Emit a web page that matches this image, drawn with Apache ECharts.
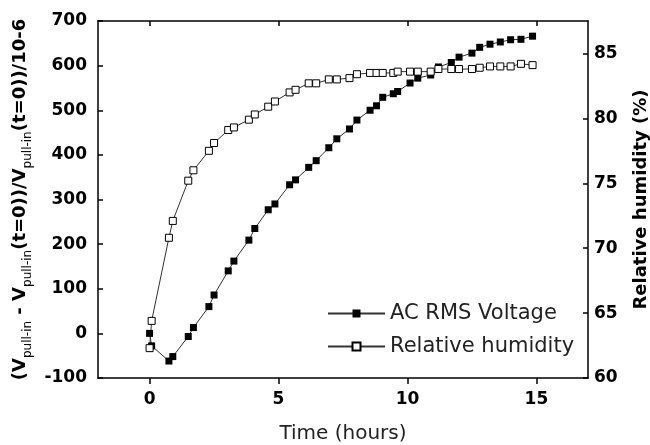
<!DOCTYPE html>
<html>
<head>
<meta charset="utf-8">
<script src="https://cdn.jsdelivr.net/npm/echarts@6/dist/echarts.min.js"></script>
<style>
html,body{margin:0;padding:0;background:#fff;}
#chart{width:650px;height:445px;}
</style>
</head>
<body>
<div id="chart"></div>
<script>
// Time (hours)
const timeHours = [0, 0.08, 0.75, 0.9, 1.5, 1.7, 2.3, 2.5, 3.05, 3.27, 3.85, 4.08, 4.6, 4.86, 5.43, 5.66, 6.17, 6.46, 6.95, 7.26, 7.75, 8.04, 8.55, 8.8, 9.04, 9.45, 9.62, 10.1, 10.4, 10.9, 11.2, 11.7, 12.0, 12.5, 12.8, 13.2, 13.6, 14.0, 14.4, 14.85];
// AC RMS Voltage: (Vpull-in - Vpull-in(t=0))/Vpull-in(t=0) /10-6
const acRmsVoltage = [0, -28, -62, -52, -7, 13, 60, 86, 140, 162, 209, 235, 277, 290, 333, 344, 372, 387, 416, 436, 458, 478, 500, 510, 529, 537, 542, 561, 572, 579, 597, 607, 619, 628, 641, 648, 653, 658, 659, 666];
// Relative humidity (%)
const relativeHumidity = [62.3, 64.4, 70.8, 72.1, 75.2, 76.0, 77.5, 78.1, 79.1, 79.3, 79.9, 80.3, 80.9, 81.3, 82.0, 82.2, 82.7, 82.7, 83.0, 83.0, 83.1, 83.4, 83.5, 83.5, 83.5, 83.5, 83.6, 83.6, 83.6, 83.6, 83.8, 83.8, 83.8, 83.8, 83.9, 84.0, 84.0, 84.0, 84.2, 84.1];
// Tick labels
const xTicks = [0, 5, 10, 15];
const leftTicks = [-100, 0, 100, 200, 300, 400, 500, 600, 700];
const rightTicks = [60, 65, 70, 75, 80, 85];

const seriesNames = ['AC RMS Voltage', 'Relative humidity'];

const tickFont = {fontFamily: 'DejaVu Sans', fontWeight: 'bold', fontSize: 17, color: '#000'};
const chart = echarts.init(document.getElementById('chart'), null, {renderer: 'canvas'});

const acData = timeHours.map((t, i) => [t, acRmsVoltage[i]]);
const rhData = timeHours.map((t, i) => [t, relativeHumidity[i]]);

const subName = '{m|(V}{s|pull-in}{m| - V}{s|pull-in}{m|(t=0))/V}{s|pull-in}{m|(t=0))/10-6}';

chart.setOption({
  animation: false,
  backgroundColor: '#fff',
  grid: {left: 98, right: 62, top: 21, bottom: 67, containLabel: false, outerBoundsMode: 'none'},
  legend: {
    data: seriesNames,
    orient: 'vertical',
    left: 322, top: 298,
    itemWidth: 57, itemHeight: 10, itemGap: 12,
    textStyle: {fontFamily: 'DejaVu Sans', fontSize: 21, color: '#222'}
  },
  xAxis: [{
    type: 'value', min: -2, max: 17, position: 'bottom',
    name: 'Time (hours)', nameLocation: 'middle', nameGap: 46,
    nameTextStyle: {fontFamily: 'DejaVu Sans', fontSize: 20, color: '#222'},
    axisLine: {show: true, onZero: false, lineStyle: {color: '#000', width: 1.5}},
    axisTick: {show: true, inside: false, length: 6, customValues: xTicks, lineStyle: {color: '#000', width: 1.5}},
    axisLabel: Object.assign({margin: 13, customValues: xTicks}, tickFont),
    splitLine: {show: false}
  }, {
    type: 'value', min: -2, max: 17, position: 'top',
    axisLine: {show: true, onZero: false, lineStyle: {color: '#000', width: 1.5}},
    axisTick: {show: true, inside: true, length: 5, customValues: xTicks, lineStyle: {color: '#000', width: 1.5}},
    axisLabel: {show: false},
    splitLine: {show: false}
  }],
  yAxis: [{
    type: 'value', min: -100, max: 700, interval: 100, position: 'left',
    name: subName, nameLocation: 'middle', nameGap: 62, nameRotate: 90,
    nameTextStyle: {
      rich: {
        m: {fontFamily: 'DejaVu Sans', fontWeight: 'bold', fontSize: 18, color: '#000', lineHeight: 22, verticalAlign: 'top'},
        s: {fontFamily: 'DejaVu Sans', fontWeight: 'normal', fontSize: 12, color: '#000', lineHeight: 14, verticalAlign: 'bottom'}
      }
    },
    axisLine: {show: true, onZero: false, lineStyle: {color: '#000', width: 1.5}},
    axisTick: {show: true, inside: true, length: 5, lineStyle: {color: '#000', width: 1.5}},
    axisLabel: Object.assign({margin: 11}, tickFont),
    splitLine: {show: false}
  }, {
    type: 'value', min: 60, max: 87.5, position: 'right',
    name: 'Relative humidity (%)', nameLocation: 'middle', nameGap: 44, nameRotate: 90,
    nameTextStyle: {fontFamily: 'DejaVu Sans', fontWeight: 'bold', fontSize: 18, color: '#000'},
    axisLine: {show: true, onZero: false, lineStyle: {color: '#000', width: 1.5}},
    axisTick: {show: true, inside: true, length: 5, customValues: rightTicks, lineStyle: {color: '#000', width: 1.5}},
    axisLabel: Object.assign({margin: 6, customValues: rightTicks}, tickFont),
    splitLine: {show: false}
  }],
  series: [{
    name: seriesNames[0], type: 'line', xAxisIndex: 0, yAxisIndex: 0,
    data: acData, symbol: 'rect', symbolSize: 7,
    itemStyle: {color: '#000', borderColor: '#000', borderWidth: 0},
    lineStyle: {color: '#333', width: 1}
  }, {
    name: seriesNames[1], type: 'line', xAxisIndex: 0, yAxisIndex: 1,
    data: rhData, symbol: 'rect', symbolSize: 7,
    itemStyle: {color: '#fff', borderColor: '#000', borderWidth: 1},
    lineStyle: {color: '#333', width: 1}
  }]
});
</script>
</body>
</html>
